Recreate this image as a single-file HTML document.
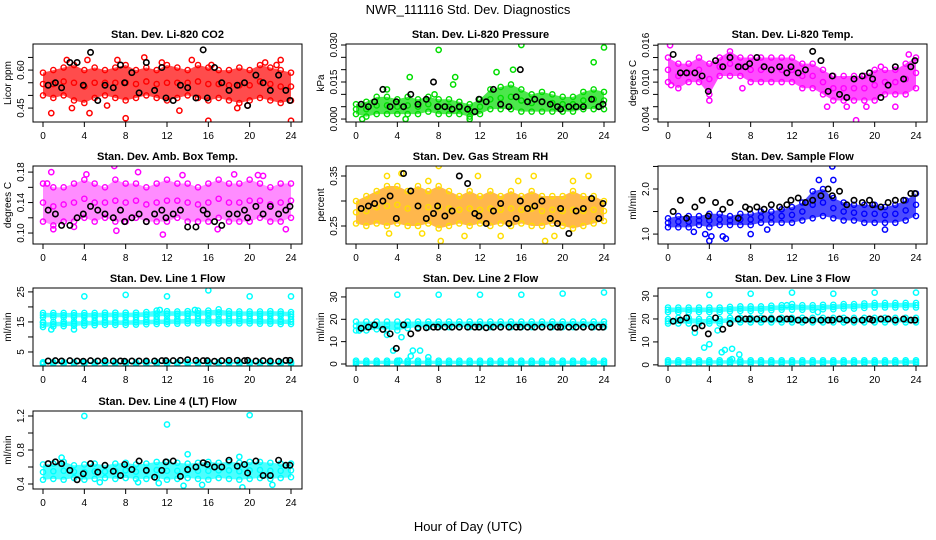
<!DOCTYPE html>
<html><head><meta charset="utf-8"><style>
html,body{margin:0;padding:0;background:#fff;}
svg{display:block;font-family:"Liberation Sans",Arial,sans-serif;}
</style></head><body>
<svg id="chart" width="936" height="540" viewBox="0 0 936 540">
<text x="468" y="14" text-anchor="middle" font-size="13">NWR_111116  Std. Dev. Diagnostics</text>
<text x="468" y="531" text-anchor="middle" font-size="13">Hour of Day (UTC)</text>
</svg>
<script>
const bandHours=[0,1,2,3,4,5,6,7,8,9,10,11,12,13,14,15,16,17,18,19,20,21,22,23,24];
const blackHours=[0.5,1.2,1.8,2.6,3.3,3.9,4.6,5.3,6.0,6.8,7.5,7.9,8.6,9.3,10.0,10.8,11.5,11.9,12.6,13.3,14.0,14.8,15.5,15.9,16.6,17.3,18.0,18.8,19.5,19.8,20.6,21.3,22.0,22.8,23.5,23.9];
const xTicks=[0,4,8,12,16,20,24];

const co2Lo=[0.50,0.49,0.50,0.48,0.47,0.49,0.50,0.49,0.48,0.49,0.50,0.49,0.48,0.49,0.50,0.49,0.48,0.49,0.48,0.47,0.48,0.49,0.48,0.47,0.48];
const co2Hi=[0.59,0.60,0.61,0.62,0.60,0.61,0.60,0.61,0.62,0.60,0.61,0.60,0.62,0.61,0.60,0.62,0.61,0.60,0.60,0.61,0.60,0.62,0.61,0.60,0.59];
const co2OutX=[0.8,2.8,4.5,4.3,7.2,8.0,9.8,11.5,14.4,16.0,16.3,18.8,21.5,22.6,23.0,24.0,2.3,6.2,13.2,19.8];
const co2OutY=[0.43,0.45,0.43,0.64,0.64,0.41,0.65,0.63,0.64,0.40,0.62,0.45,0.63,0.62,0.64,0.40,0.64,0.46,0.44,0.46];
const co2Black=[0.54,0.55,0.53,0.63,0.63,0.54,0.67,0.48,0.54,0.53,0.62,0.55,0.59,0.51,0.63,0.52,0.61,0.49,0.48,0.54,0.53,0.49,0.68,0.49,0.61,0.55,0.52,0.54,0.55,0.46,0.58,0.55,0.52,0.58,0.52,0.48];

const presLo=[0.002,0.001,0.002,0.002,0.002,0.002,0.002,0.003,0.002,0.002,0.002,0.001,0.002,0.004,0.004,0.004,0.003,0.003,0.003,0.003,0.003,0.003,0.004,0.004,0.004];
const presHi=[0.006,0.007,0.009,0.009,0.008,0.009,0.008,0.009,0.008,0.008,0.007,0.006,0.008,0.012,0.013,0.014,0.012,0.010,0.011,0.010,0.009,0.009,0.011,0.012,0.011];
const presOutX=[0.6,4.8,5.2,8.0,9.6,9.4,11.0,13.6,15.2,16.0,23.0,24.0,3.0,7.6];
const presOutY=[0.000,0.000,0.017,0.028,0.017,0.014,0.000,0.019,0.020,0.030,0.023,0.029,0.012,0.010];
const presBlack=[0.006,0.005,0.007,0.012,0.005,0.007,0.005,0.010,0.006,0.008,0.015,0.005,0.005,0.004,0.005,0.004,0.003,0.008,0.007,0.012,0.006,0.005,0.009,0.020,0.007,0.008,0.007,0.006,0.005,0.004,0.005,0.005,0.005,0.008,0.005,0.006];

const tempLo=[0.010,0.009,0.010,0.010,0.008,0.011,0.011,0.011,0.010,0.010,0.010,0.010,0.010,0.009,0.009,0.008,0.007,0.007,0.007,0.007,0.007,0.008,0.008,0.008,0.009];
const tempHi=[0.014,0.013,0.013,0.014,0.013,0.014,0.015,0.014,0.014,0.014,0.014,0.014,0.014,0.013,0.013,0.012,0.011,0.011,0.011,0.011,0.012,0.012,0.012,0.013,0.014];
const tempOutX=[0.2,0.3,4.0,7.2,12.0,15.4,17.3,18.2,19.2,20.6,22.0,23.3];
const tempOutY=[0.016,0.0095,0.007,0.009,0.012,0.006,0.006,0.0038,0.006,0.0125,0.006,0.0145];
const tempBlack=[0.0145,0.0115,0.0115,0.0115,0.011,0.0085,0.0135,0.0125,0.014,0.0125,0.0125,0.013,0.014,0.0125,0.012,0.0125,0.0115,0.0125,0.0115,0.012,0.015,0.0135,0.0085,0.011,0.008,0.0075,0.0105,0.011,0.0115,0.0105,0.0075,0.0095,0.0125,0.0105,0.0125,0.0135];

const ambLo=[0.115,0.11,0.115,0.115,0.12,0.115,0.12,0.115,0.115,0.12,0.115,0.115,0.115,0.12,0.115,0.115,0.115,0.12,0.115,0.115,0.115,0.12,0.115,0.115,0.12];
const ambHi=[0.165,0.16,0.16,0.165,0.17,0.165,0.16,0.17,0.165,0.165,0.16,0.165,0.17,0.165,0.165,0.16,0.165,0.17,0.165,0.165,0.17,0.165,0.16,0.165,0.165];
const ambOutX=[0.8,1.0,4.2,6.9,9.2,11.6,7.1,13.5,18.5,20.8,21.3,23.5,0.4,3.0,16.9];
const ambOutY=[0.180,0.105,0.177,0.188,0.180,0.098,0.103,0.176,0.177,0.176,0.175,0.105,0.165,0.108,0.105];
const ambBlack=[0.13,0.125,0.11,0.11,0.12,0.125,0.135,0.13,0.125,0.12,0.13,0.115,0.12,0.125,0.115,0.125,0.13,0.12,0.125,0.13,0.108,0.108,0.13,0.125,0.115,0.11,0.125,0.125,0.13,0.12,0.135,0.125,0.135,0.125,0.13,0.135];

const rhLo=[0.255,0.25,0.255,0.25,0.255,0.25,0.25,0.255,0.245,0.25,0.255,0.25,0.255,0.25,0.255,0.25,0.255,0.25,0.25,0.255,0.25,0.245,0.25,0.255,0.26];
const rhHi=[0.30,0.31,0.32,0.33,0.33,0.32,0.33,0.32,0.33,0.32,0.31,0.32,0.31,0.32,0.31,0.32,0.31,0.32,0.31,0.31,0.31,0.32,0.31,0.31,0.30];
const rhOutX=[3.0,4.4,7.0,8.0,8.2,10.5,11.8,14.0,15.7,17.2,18.3,19.2,21.0,22.5,3.2,6.4];
const rhOutY=[0.35,0.355,0.34,0.37,0.22,0.23,0.35,0.23,0.34,0.35,0.22,0.23,0.34,0.35,0.235,0.235];
const rhBlack=[0.285,0.29,0.295,0.30,0.31,0.265,0.355,0.32,0.29,0.265,0.275,0.29,0.27,0.28,0.35,0.335,0.275,0.27,0.255,0.28,0.295,0.255,0.265,0.30,0.285,0.29,0.30,0.265,0.255,0.285,0.235,0.28,0.285,0.305,0.265,0.295];

const flowLo=[1.15,1.15,1.15,1.2,1.15,1.2,1.2,1.2,1.2,1.25,1.25,1.25,1.25,1.3,1.35,1.4,1.35,1.3,1.3,1.25,1.25,1.25,1.25,1.3,1.4];
const flowHi=[1.35,1.4,1.4,1.4,1.45,1.45,1.4,1.45,1.45,1.5,1.5,1.55,1.6,1.7,1.95,2.0,1.8,1.7,1.65,1.65,1.65,1.6,1.65,1.75,1.9];
const flowOutX=[3.6,4.0,4.2,5.3,5.6,8.0,9.6,15.9,16.0,14.6,2.5,21.0];
const flowOutY=[1.0,0.85,0.95,0.95,0.9,1.0,1.1,2.5,2.2,2.2,1.05,1.1];
const flowBlack=[1.5,1.75,1.35,1.6,1.75,1.4,1.7,1.55,1.7,1.35,1.6,1.55,1.6,1.55,1.65,1.6,1.65,1.75,1.8,1.7,1.75,1.85,2.0,1.85,1.95,1.65,1.75,1.7,1.75,1.65,1.6,1.7,1.75,1.75,1.9,1.9];

const l1UpLo=[16.5,16.5,16.5,16.5,16.5,16.5,16.6,16.6,16.6,16.6,16.7,16.8,17.0,17.0,17.0,17.0,17.2,17.2,17.0,17.0,17.0,17.0,17.0,17.0,16.8];
const l1UpHi=[18.0,18.0,18.0,18.0,18.0,18.0,18.1,18.1,18.1,18.1,18.3,18.8,18.6,18.5,18.6,18.8,18.8,19.2,18.6,18.5,18.5,18.5,18.6,18.5,18.3];
const l1MidLo=[13.3,13.5,13.6,13.7,13.8,13.9,14.0,14.0,14.0,14.1,14.2,14.3,14.3,14.4,14.5,14.5,14.5,14.5,14.5,14.5,14.5,14.4,14.4,14.3,14.3];
const l1MidHi=[14.8,15.0,15.1,15.2,15.3,15.4,15.5,15.5,15.5,15.6,15.7,15.8,15.8,15.9,16.0,16.0,16.0,16.0,16.0,16.0,16.0,15.9,15.9,15.8,15.8];
const l1BotLo=[1.0,1.0,1.0,1.0,1.0,1.0,1.0,1.0,1.0,1.0,1.0,1.0,1.0,1.0,1.0,1.0,1.0,1.0,1.0,1.0,1.0,1.0,1.0,1.0,1.0];
const l1BotHi=[1.6,1.6,1.6,1.6,1.6,1.6,1.6,1.6,1.6,1.6,1.6,1.6,1.6,1.6,1.6,1.6,1.6,1.6,1.6,1.6,1.6,1.6,1.6,1.6,1.6];
const l1OutX=[4,8,12,16,20,24,0,3,0.8,11.3,14.7];
const l1OutY=[23.5,24,23.5,25.5,23.5,23.5,15,12.5,12.5,19,19];
const l1Black=[2.0,2.1,2.0,2.1,2.0,1.9,2.1,2.0,2.1,2.0,2.0,1.9,2.0,2.0,2.0,2.0,2.1,2.1,2.1,2.2,2.4,2.2,2.1,2.1,1.9,2.1,2.2,2.2,2.1,2.2,2.0,2.1,2.0,1.9,2.2,2.2];

const l2Lo=[15,15,15.5,15.5,15,16,16.5,16.5,16.5,16.5,16.5,16.5,16.5,16.5,16.5,16.5,16.5,16.5,16.5,16.5,16.5,16.5,16.5,16.5,16.5];
const l2Hi=[19,19,19,19,19,19,19,19,19,19,19,19,19,19,19,19,19,19,19,19,19,19,19,19,19];
const l2BotLo=[0,0,0,0,0,0,0,0,0,0,0,0,0,0,0,0,0,0,0,0,0,0,0,0,0];
const l2BotHi=[1.5,1.5,1.5,1.5,1.5,1.5,1.5,1.5,1.5,1.5,1.5,1.5,1.5,1.5,1.5,1.5,1.5,1.5,1.5,1.5,1.5,1.5,1.5,1.5,1.5];
const l2OutX=[4,8,12,16,20,24,3.6,5.3,5.5,6.2,7,4.4,4.2,0.3,3.0];
const l2OutY=[31,31,31,31,31.5,32,6,3.5,6,6,3,12,1.5,15,13];
const l2Black=[16,16.5,17.5,15.5,13.5,7,17.5,13.5,16,16.2,16.5,16.5,16.5,16.5,16.5,16.5,16.5,16.5,16.2,16.5,16.5,16.5,16.5,16.5,16.5,16.5,16.5,16.5,16.5,16.5,16.5,16.5,16.5,16.5,16.5,16.5];

const l3UpLo=[23,23,23,23,23,23,23.3,23.5,23.5,23.5,23.8,24,24,24,24,24.2,24.2,24.5,24.5,24.8,25,25,25,25,25];
const l3UpHi=[25,25,25,25,25,25,25.3,25.5,25.5,25.5,25.8,26,26.5,26,26,26.2,26.2,26.5,26.5,26.8,27,27,27,27,27];
const l3MidLo=[18,18,18,18,18,18,18.5,18.5,18.5,18.5,18.5,18.5,18.5,18.5,18.5,18.5,18.5,18.5,18.5,18.5,18.5,18.5,18.5,18.5,18.5];
const l3MidHi=[20,20.5,20.5,20,20,20,20.5,20.5,20.5,20.5,20.5,20.5,20.5,20.5,20.5,20.5,20.5,20.5,20.5,20.5,20.5,20.5,20.5,20.5,20.5];
const l3BotLo=[0.5,0.5,0.5,0.5,0.5,0.5,0.5,0.5,0.5,0.5,0.5,0.5,0.5,0.5,0.5,0.5,0.5,0.5,0.5,0.5,0.5,0.5,0.5,0.5,0.5];
const l3BotHi=[2,2,2,2,2,2,2,2,2,2,2,2,2,2,2,2,2,2,2,2,2,2,2,2,2];
const l3OutX=[4,8,12,16,20,24,3.5,4,5.2,5.5,6.2,6.2,6.9,2.6,4.8,11.5,14.5];
const l3OutY=[30.5,31,31.5,31,31.5,31.5,7.5,9,5.5,6.5,2.5,7,4.5,14,15,26,23];
const l3Black=[19,19.5,20.5,16,17,13.5,20.5,15.5,18,20,20,20,20,20,20,20,20,20,19.5,19.5,19.5,19.5,19.5,19.5,20,19.5,19.5,19.5,20,19.5,20,20,19.5,20,19.5,19.5];

const l4Lo=[0.45,0.46,0.45,0.47,0.45,0.46,0.47,0.46,0.47,0.46,0.46,0.47,0.45,0.46,0.47,0.46,0.45,0.47,0.46,0.45,0.46,0.47,0.46,0.47,0.48];
const l4Hi=[0.63,0.64,0.66,0.62,0.63,0.64,0.62,0.64,0.65,0.63,0.64,0.66,0.66,0.65,0.64,0.65,0.66,0.65,0.66,0.65,0.66,0.66,0.65,0.64,0.64];
const l4OutX=[4,12,20,13.6,19.3,22.2,14,5.5,15.4,9.2,1.8,19,11.2];
const l4OutY=[1.2,1.1,1.21,0.38,0.36,0.39,0.75,0.42,0.39,0.42,0.71,0.72,0.41];
const l4Black=[0.64,0.66,0.64,0.56,0.45,0.52,0.64,0.54,0.62,0.55,0.5,0.63,0.57,0.67,0.56,0.48,0.56,0.66,0.67,0.49,0.57,0.6,0.65,0.63,0.6,0.6,0.68,0.61,0.63,0.53,0.67,0.5,0.5,0.68,0.62,0.62];

const NS='http://www.w3.org/2000/svg';
const svg=document.getElementById('chart');
function mk(tag,attrs,parent){const e=document.createElementNS(NS,tag);for(const k in attrs)e.setAttribute(k,attrs[k]);(parent||svg).appendChild(e);return e;}

const colLeft=[33,346,658], rowTop=[44,166,288,411];
const W=269,H=78;

const panels=[
 {c:0,r:0,title:'Stan. Dev. Li-820 CO2',ylab:'Licor ppm',color:'#ff0000',yMin:0.395,yMax:0.703,ticks:[0.45,0.5,0.55,0.6,0.65],labels:['0.45','0.60'],labelVals:[0.45,0.6],bands:[[co2Lo,co2Hi]],outX:co2OutX,outY:co2OutY,black:co2Black},
 {c:1,r:0,title:'Stan. Dev. Li-820 Pressure',ylab:'kPa',color:'#00dd00',yMin:-0.0012,yMax:0.0304,ticks:[0,0.005,0.01,0.015,0.02,0.025,0.03],labels:['0.000','0.015','0.030'],labelVals:[0,0.015,0.03],bands:[[presLo,presHi]],outX:presOutX,outY:presOutY,black:presBlack},
 {c:2,r:0,title:'Stan. Dev. Li-820 Temp.',ylab:'degrees C',color:'#ff00ff',yMin:0.00351,yMax:0.0162,ticks:[0.004,0.006,0.008,0.01,0.012,0.014,0.016],labels:['0.004','0.010','0.016'],labelVals:[0.004,0.01,0.016],bands:[[tempLo,tempHi]],outX:tempOutX,outY:tempOutY,black:tempBlack},
 {c:0,r:1,title:'Stan. Dev. Amb. Box Temp.',ylab:'degrees C',color:'#ff00ff',yMin:0.0856,yMax:0.188,ticks:[0.1,0.12,0.14,0.16,0.18],labels:['0.10','0.14','0.18'],labelVals:[0.1,0.14,0.18],bands:[[ambLo,ambHi]],outX:ambOutX,outY:ambOutY,black:ambBlack,sparse:true},
 {c:1,r:1,title:'Stan. Dev. Gas Stream RH',ylab:'percent',color:'#ff9900',edge:'#ffdd00',yMin:0.214,yMax:0.37,ticks:[0.25,0.3,0.35],labels:['0.25','0.35'],labelVals:[0.25,0.35],bands:[[rhLo,rhHi]],outX:rhOutX,outY:rhOutY,black:rhBlack},
 {c:2,r:1,title:'Stan. Dev. Sample Flow',ylab:'ml/min',color:'#0000ff',yMin:0.78,yMax:2.51,ticks:[1.0,1.5,2.0,2.5],labels:['1.0','2.0'],labelVals:[1.0,2.0],bands:[[flowLo,flowHi]],outX:flowOutX,outY:flowOutY,black:flowBlack},
 {c:0,r:2,title:'Stan. Dev. Line 1 Flow',ylab:'ml/min',color:'#00ffff',yMin:0.33,yMax:26.3,ticks:[5,10,15,20,25],labels:['5','15','25'],labelVals:[5,15,25],bands:[[l1UpLo,l1UpHi],[l1MidLo,l1MidHi],[l1BotLo,l1BotHi]],outX:l1OutX,outY:l1OutY,black:l1Black},
 {c:1,r:2,title:'Stan. Dev. Line 2 Flow',ylab:'ml/min',color:'#00ffff',yMin:-0.9,yMax:34,ticks:[0,10,20,30],labels:['0','10','20','30'],labelVals:[0,10,20,30],bands:[[l2Lo,l2Hi],[l2BotLo,l2BotHi]],outX:l2OutX,outY:l2OutY,black:l2Black},
 {c:2,r:2,title:'Stan. Dev. Line 3 Flow',ylab:'ml/min',color:'#00ffff',yMin:-0.5,yMax:33.5,ticks:[0,10,20,30],labels:['0','10','20','30'],labelVals:[0,10,20,30],bands:[[l3UpLo,l3UpHi],[l3MidLo,l3MidHi],[l3BotLo,l3BotHi]],outX:l3OutX,outY:l3OutY,black:l3Black},
 {c:0,r:3,title:'Stan. Dev. Line 4 (LT) Flow',ylab:'ml/min',color:'#00ffff',yMin:0.341,yMax:1.259,ticks:[0.4,0.6,0.8,1.0,1.2],labels:['0.4','0.8','1.2'],labelVals:[0.4,0.8,1.2],bands:[[l4Lo,l4Hi]],outX:l4OutX,outY:l4OutY,black:l4Black}
];

panels.forEach((p,pi)=>{
  const L=colLeft[p.c], T=rowTop[p.r], B=T+H, R=L+W;
  const xs=h=>L+10+h*(W-21)/24;
  const ys=v=>B-(v-p.yMin)/(p.yMax-p.yMin)*H;
  const g=mk('g',{});
  
  
  const clip=mk('clipPath',{id:'clip'+pi},g);
  mk('rect',{x:L,y:T,width:W,height:H},clip);
  const plot=mk('g',{'clip-path':'url(#clip'+pi+')'},g);
  // bands
  p.bands.forEach((bd,bi)=>{
    const lo=bd[0],hi=bd[1];
    let pts=bandHours.map((h,i)=>xs(h)+','+ys(hi[i]));
    pts=pts.concat(bandHours.slice().reverse().map((h,j)=>{const i=bandHours.length-1-j;return xs(h)+','+ys(lo[i]);}));
    const poly=mk('polygon',{points:pts.join(' '),fill:p.color,'fill-opacity':p.sparse?0.45:0.7,stroke:'none'},plot);
    
    
    bandHours.forEach((h,i)=>{
      [lo[i],hi[i],(lo[i]+hi[i])/2].forEach(v=>{
        const c=mk('circle',{cx:xs(h),cy:ys(v),r:2.6,fill:'none',stroke:p.edge||p.color,'stroke-width':1.4},plot);
        
        
      });
    });
  });
  p.outX.forEach((h,i)=>{
    const c=mk('circle',{cx:xs(h),cy:ys(p.outY[i]),r:2.6,fill:'none',stroke:p.edge||p.color,'stroke-width':1.5},plot);
    
    
  });
  p.black.forEach((v,i)=>{
    const c=mk('circle',{cx:xs(blackHours[i]),cy:ys(v),r:2.7,fill:'none',stroke:'#000','stroke-width':1.6},plot);
    
    
  });
  const box=mk('rect',{x:L,y:T,width:W,height:H,fill:'none',stroke:'#000','stroke-width':1},g);
  
  
  const t=mk('text',{x:L+W/2,y:T-6,'text-anchor':'middle','font-size':11,'font-weight':'bold'},g);
  
  
  t.textContent=p.title;
  // x axis
  mk('line',{x1:xs(0),x2:xs(24),y1:B,y2:B,stroke:'#000'},g);
  xTicks.forEach(h=>{
    const tk=mk('line',{x1:xs(h),x2:xs(h),y1:B,y2:B+5,stroke:'#000'},g);
    
    
    const tl=mk('text',{x:xs(h),y:B+17,'text-anchor':'middle','font-size':10},g);
    
    
    tl.textContent=h;
  });
  // y axis
  p.ticks.forEach(v=>{
    const tk=mk('line',{x1:L-5,x2:L,y1:ys(v),y2:ys(v),stroke:'#000'},g);
    
    
  });
  p.labelVals.forEach((v,i)=>{
    const tl=mk('text',{x:0,y:0,'text-anchor':'middle','font-size':10,transform:'translate('+(L-9)+','+ys(v)+') rotate(-90)'},g);
    
    
    tl.textContent=p.labels[i];
  });
  const yl=mk('text',{x:0,y:0,'text-anchor':'middle','font-size':10,transform:'translate('+(L-22)+','+(T+H/2)+') rotate(-90)'},g);
  
  
  yl.textContent=p.ylab;
});
</script>
</body></html>
